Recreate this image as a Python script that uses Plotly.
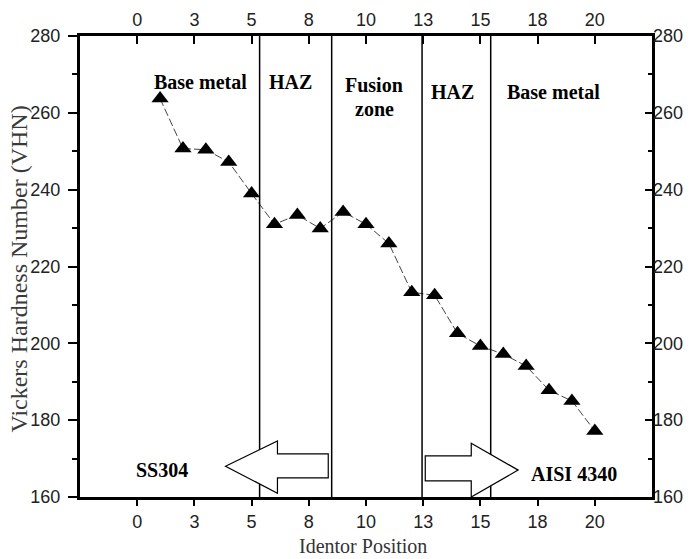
import plotly.graph_objects as go

# ---- data ----
positions = list(range(1, 21))
hardness = [263.7, 250.7, 250.4, 247.2, 239.0, 231.0, 233.4, 229.9, 234.2, 231.0,
            226.0, 213.3, 212.5, 202.6, 199.3, 197.2, 194.1, 187.8, 185.0, 177.2]

x_tickvals = [0, 2.5, 5, 7.5, 10, 12.5, 15, 17.5, 20]
x_ticktext = ["0", "3", "5", "8", "10", "13", "15", "18", "20"]
y_tickvals = [160, 180, 200, 220, 240, 260, 280]
y_ticktext = ["160", "180", "200", "220", "240", "260", "280"]

zone_bounds = [5.35, 8.5, 12.45, 15.45]
zone_labels = ["Base metal", "HAZ", "Fusion", "zone", "HAZ", "Base metal"]
zone_label_x = [2.75, 6.72, 10.36, 10.36, 13.79, 18.18]
zone_label_y = [268.0, 268.0, 267.2, 261.1, 265.4, 265.3]

materials = ["SS304", "AISI 4340"]
material_x = [1.10, 19.1]
material_y = [167.0, 166.0]

# arrow outlines (data coordinates)
left_arrow_x = [3.86, 6.13, 6.13, 8.35, 8.35, 6.13, 6.13]
left_arrow_y = [168.0, 174.6, 171.2, 171.2, 165.0, 165.0, 161.0]
right_arrow_x = [12.59, 14.6, 14.6, 16.65, 14.6, 14.6, 12.59]
right_arrow_y = [170.7, 170.7, 174.0, 167.0, 160.0, 164.2, 164.2]

x_title = "Identor Position"
y_title = "Vickers Hardness Number (VHN)"

x_range = [-2.5, 22.5]
y_range = [160, 280]

fig = go.Figure()

fig.add_trace(go.Scatter(
    x=positions, y=hardness, mode="lines+markers",
    line=dict(color="#444444", width=1, dash="8px,3px"),
    marker=dict(symbol="triangle-up", size=15, color="black"),
    showlegend=False,
))
fig.add_trace(go.Scatter(x=[None], y=[None], xaxis="x2", yaxis="y2",
                         showlegend=False, hoverinfo="skip"))

shapes = []
for b in zone_bounds:
    shapes.append(dict(type="line", xref="x", yref="y", x0=b, x1=b,
                       y0=y_range[0], y1=y_range[1],
                       line=dict(color="black", width=1.5)))


def path_of(xs, ys):
    p = "M %g,%g" % (xs[0], ys[0])
    for a, b in zip(xs[1:], ys[1:]):
        p += " L %g,%g" % (a, b)
    return p + " Z"


for xs, ys in [(left_arrow_x, left_arrow_y), (right_arrow_x, right_arrow_y)]:
    shapes.append(dict(type="path", xref="x", yref="y", path=path_of(xs, ys),
                       fillcolor="white", line=dict(color="black", width=1.2)))

annotations = []
for t, x, y in zip(zone_labels, zone_label_x, zone_label_y):
    annotations.append(dict(text="<b>%s</b>" % t, x=x, y=y, xref="x", yref="y",
                            showarrow=False,
                            font=dict(family="Liberation Serif", size=20, color="black")))
for t, x, y in zip(materials, material_x, material_y):
    annotations.append(dict(text="<b>%s</b>" % t, x=x, y=y, xref="x", yref="y",
                            showarrow=False,
                            font=dict(family="Liberation Serif", size=20, color="black")))

# axis titles as paper annotations
annotations.append(dict(text=x_title, xref="paper", yref="paper", x=0.5, y=0,
                        xanchor="center", yanchor="middle", xshift=-3, yshift=-49,
                        showarrow=False,
                        font=dict(family="Liberation Serif", size=20, color="#333333")))
annotations.append(dict(text=y_title, xref="paper", yref="paper", x=0, y=0.5,
                        xanchor="center", yanchor="middle", xshift=-62, yshift=-3,
                        textangle=-90, showarrow=False,
                        font=dict(family="Liberation Serif", size=24, color="#3a3a3a")))

tickfont = dict(family="Liberation Sans", size=18, color="#222222")

fig.update_layout(
    width=695, height=559,
    margin=dict(l=80, r=43, t=36, b=62),
    paper_bgcolor="white", plot_bgcolor="white",
    shapes=shapes, annotations=annotations,
    xaxis=dict(range=x_range, tickvals=x_tickvals, ticktext=x_ticktext,
               ticks="outside", ticklen=6, tickwidth=1.5, tickcolor="black",
               showline=True, linewidth=3, linecolor="black", mirror=True,
               showgrid=False, zeroline=False, tickfont=tickfont, automargin=False),
    yaxis=dict(range=y_range, tickvals=y_tickvals, ticktext=y_ticktext,
               ticks="outside", ticklen=9, tickwidth=1.5, tickcolor="black",
               minor=dict(dtick=10, ticks="outside", ticklen=5, tickwidth=1.5,
                          tickcolor="black"),
               showline=True, linewidth=3, linecolor="black", mirror=True,
               showgrid=False, zeroline=False, tickfont=tickfont, automargin=False,
               ticklabelstandoff=4),
    xaxis2=dict(range=x_range, tickvals=x_tickvals, ticktext=x_ticktext,
                overlaying="x", side="top", anchor="y",
                ticks="inside", ticklen=8, tickwidth=1.5, tickcolor="black",
                showline=False, showgrid=False, zeroline=False, tickfont=tickfont,
                automargin=False, ticklabelstandoff=5),
    yaxis2=dict(range=y_range, tickvals=y_tickvals, ticktext=y_ticktext,
                overlaying="y", side="right", anchor="x",
                ticks="inside", ticklen=7, tickwidth=1.5, tickcolor="black",
                minor=dict(dtick=10, ticks="inside", ticklen=4, tickwidth=1.5,
                           tickcolor="black"),
                showline=False, showgrid=False, zeroline=False, tickfont=tickfont,
                automargin=False),
)

fig.write_html("out.html", config={"displayModeBar": False},
               post_script="document.body.style.margin='0px';")
